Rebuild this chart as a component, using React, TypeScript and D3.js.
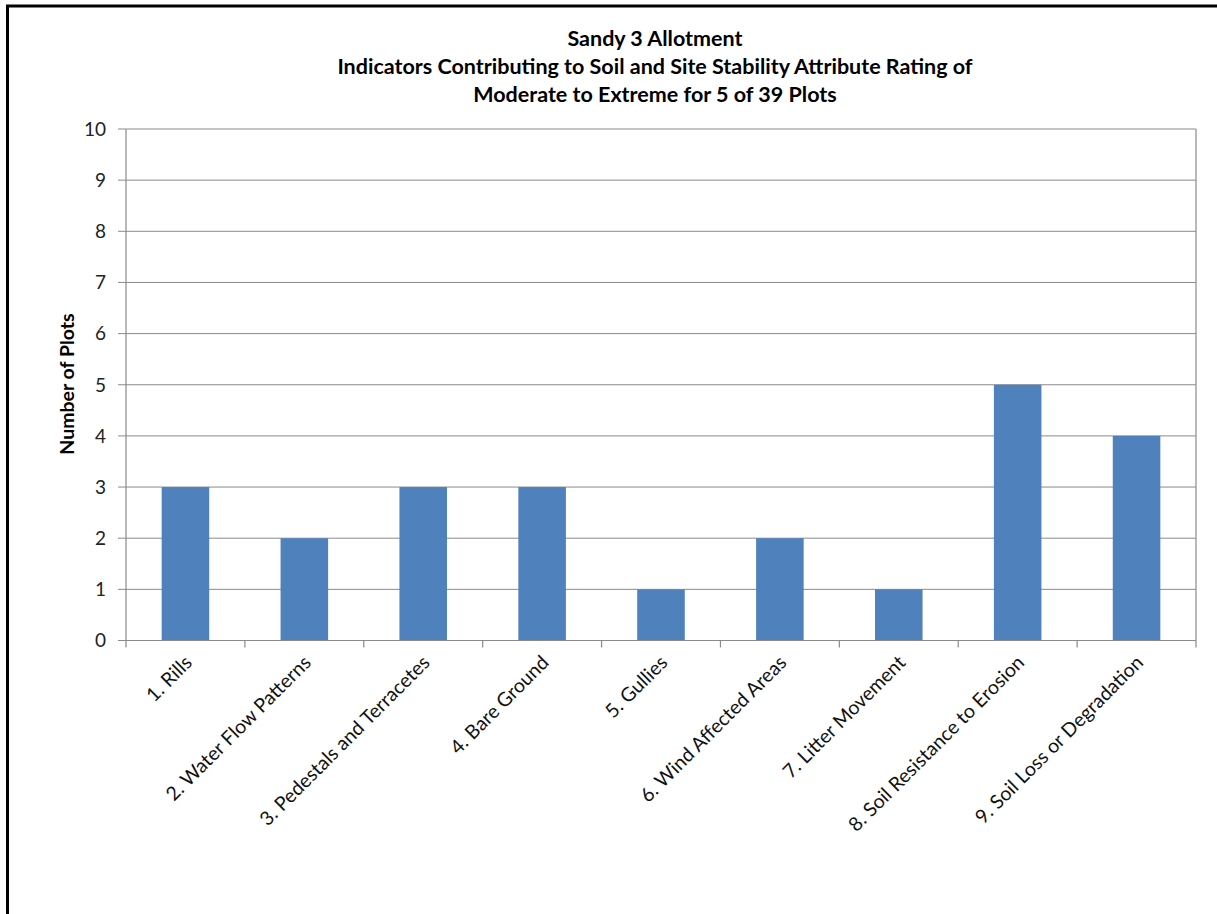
import React from "react";
import * as d3 from "d3";

const categories = [
  "1. Rills",
  "2. Water Flow Patterns",
  "3. Pedestals and Terracetes",
  "4. Bare Ground",
  "5. Gullies",
  "6. Wind Affected Areas",
  "7. Litter Movement",
  "8. Soil Resistance to Erosion",
  "9. Soil Loss or Degradation",
];
const values = [3, 2, 3, 3, 1, 2, 1, 5, 4];
const yTicks = [0, 1, 2, 3, 4, 5, 6, 7, 8, 9, 10];
const titleLines = [
  "Sandy 3 Allotment",
  "Indicators Contributing to Soil and Site Stability Attribute Rating of",
  "Moderate to Extreme for 5 of 39 Plots",
];
const yTitle = "Number of Plots";

const W = 1217;
const H = 914;
const left = 126;
const right = 1196;
const top = 129;
const bottom = 640.5;
const FONT = "Lato, 'Open Sans', 'Liberation Sans', sans-serif";

export default function App() {
  const x = d3.scaleBand<string>().domain(categories).range([left, right]).paddingInner(0.6).paddingOuter(0.3);
  const xb = d3.scaleBand<string>().domain(categories).range([left, right]);
  const y = d3.scaleLinear().domain([0, 10]).range([bottom, top]);
  const grid = "#8a8a8a";
  const tickXs = [left, ...categories.map((c) => (xb(c) as number) + xb.bandwidth())];

  return (
    <svg
      width={W}
      height={H}
      style={{ position: "absolute", left: 0, top: 0, background: "#fff" }}
      fontFamily={FONT}
    >
      <rect x={7.5} y={6} width={W + 20} height={H + 20} fill="#fff" stroke="#000" strokeWidth={3} />
      {titleLines.map((t, i) => (
        <text key={i} x={655} y={46 + i * 28} textAnchor="middle" fontSize={21.5} fontWeight="bold" fill="#000">
          {t}
        </text>
      ))}
      {yTicks.map((t) => (
        <g key={t}>
          <line x1={118} x2={right} y1={y(t)} y2={y(t)} stroke={grid} strokeWidth={1} />
          <text x={106} y={y(t)} dy="0.36em" textAnchor="end" fontSize={19} fill="#222">
            {t}
          </text>
        </g>
      ))}
      <line x1={left} x2={left} y1={top} y2={bottom} stroke={grid} strokeWidth={1.2} />
      <line x1={right} x2={right} y1={top} y2={bottom} stroke={grid} strokeWidth={1.2} />
      {tickXs.map((tx, i) => (
        <line key={i} x1={tx} x2={tx} y1={bottom} y2={bottom + 7} stroke={grid} strokeWidth={1.2} />
      ))}
      {categories.map((c, i) => (
        <rect
          key={c}
          x={x(c) as number}
          width={x.bandwidth()}
          y={y(values[i])}
          height={y(0) - y(values[i])}
          fill="#4F81BD"
        />
      ))}
      <line x1={118} x2={right} y1={bottom} y2={bottom} stroke={grid} strokeWidth={1.2} />
      {categories.map((c) => {
        const cx = (xb(c) as number) + xb.bandwidth() / 2 + 3;
        return (
          <text
            key={c}
            transform={`translate(${cx},${659}) rotate(-45)`}
            textAnchor="end"
            dy="0.35em"
            fontSize={19.5}
            fill="#111"
          >
            {c}
          </text>
        );
      })}
      <text
        transform={`translate(${67},${384}) rotate(-90)`}
        textAnchor="middle"
        dy="0.35em"
        fontSize={19.5}
        fontWeight="bold"
        fill="#000"
      >
        {yTitle}
      </text>
    </svg>
  );
}
